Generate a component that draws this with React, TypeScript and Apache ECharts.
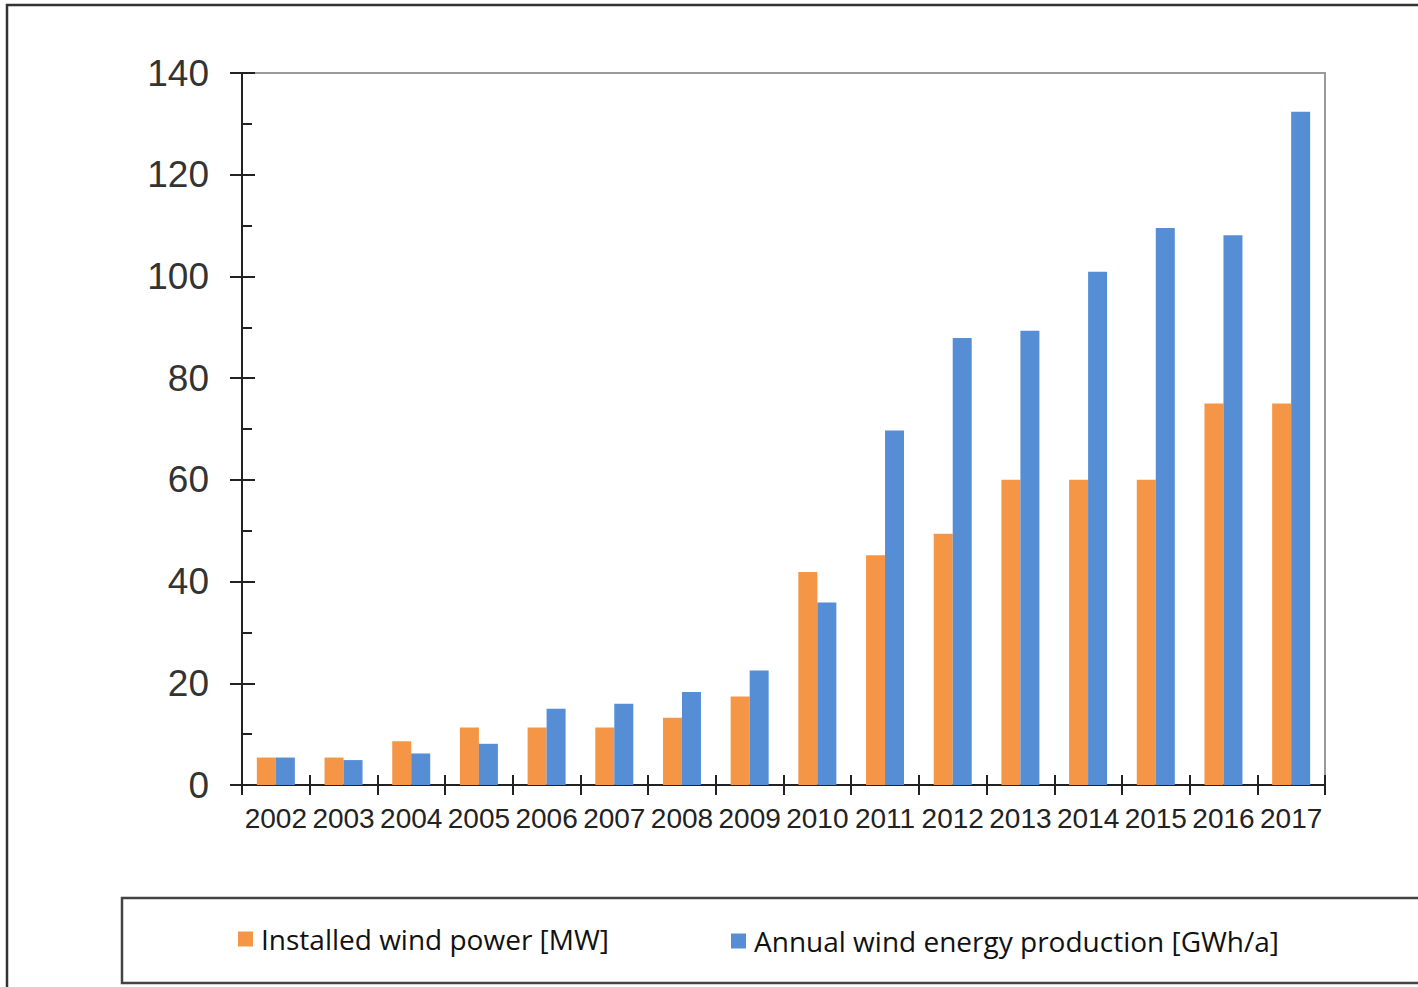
import React, { useEffect, useRef } from "react";
import * as echarts from "echarts";

const years = ["2002", "2003", "2004", "2005", "2006", "2007", "2008", "2009", "2010", "2011", "2012", "2013", "2014", "2015", "2016", "2017"];
const installedPower = [5.4, 5.4, 8.6, 11.3, 11.3, 11.3, 13.2, 17.4, 41.9, 45.2, 49.4, 60, 60, 60, 75, 75];
const annualProduction = [5.4, 4.9, 6.2, 8.1, 15, 16, 18.3, 22.5, 35.9, 69.7, 87.9, 89.3, 100.9, 109.5, 108.1, 132.4];
const seriesNames = ["Installed wind power [MW]", "Annual wind energy production [GWh/a]"];
const yTicks = { min: 0, max: 140, interval: 20 };

const ORANGE = "#F59646";
const BLUE = "#558ED5";

export default function App() {
  const ref = useRef<HTMLDivElement>(null);
  useEffect(() => {
    if (!ref.current) return;
    const chart = echarts.init(ref.current, null, { renderer: "svg" });
    const axisLineStyle = { color: "#222", width: 2 };
    const yLabel = { fontSize: 37, color: "#333", fontFamily: "Liberation Sans", margin: 33 };
    const legendText = { fontSize: 28, color: "#111", fontFamily: "Open Sans", padding: [0, 0, 0, 3] };
    chart.setOption({
      animation: false,
      backgroundColor: "#fff",
      grid: {
        left: 242, top: 73, right: 93, bottom: 202,
        show: true, borderColor: "#9a9a9a", borderWidth: 2, backgroundColor: "transparent",
      },
      xAxis: [
        {
          type: "category", data: years, position: "bottom",
          axisLine: { show: true, lineStyle: axisLineStyle },
          axisTick: { show: true, inside: true, length: 10, lineStyle: axisLineStyle },
          axisLabel: { interval: 0, fontSize: 28, color: "#222", fontFamily: "Liberation Sans", margin: 19 },
          splitLine: { show: false },
        },
        {
          type: "category", data: years, position: "bottom",
          axisLine: { show: false },
          axisTick: { show: true, inside: false, length: 10, lineStyle: axisLineStyle },
          axisLabel: { show: false },
          splitLine: { show: false },
        },
      ],
      yAxis: [
        {
          type: "value", ...yTicks, position: "left",
          axisLine: { show: true, lineStyle: axisLineStyle },
          axisTick: { show: true, inside: true, length: 13, lineStyle: axisLineStyle },
          minorTick: { show: true, splitNumber: 2, length: 10, lineStyle: { color: "#222", width: 2 } },
          axisLabel: yLabel,
          splitLine: { show: false },
        },
        {
          type: "value", ...yTicks, position: "left",
          axisLine: { show: false },
          axisTick: { show: true, inside: false, length: 12, lineStyle: axisLineStyle },
          axisLabel: { show: false },
          splitLine: { show: false },
        },
      ],
      legend: [
        {
          data: [seriesNames[0]], left: 233, top: 920, itemWidth: 15, itemHeight: 15, icon: "rect",
          textStyle: legendText,
        },
        {
          data: [seriesNames[1]], left: 726, top: 922, itemWidth: 15, itemHeight: 15, icon: "rect",
          textStyle: legendText,
        },
      ],
      graphic: [
        {
          type: "rect", shape: { x: 7, y: 5, width: 1500, height: 1100 },
          style: { fill: "none", stroke: "#333", lineWidth: 2.5 }, silent: true,
        },
        {
          type: "rect", shape: { x: 122, y: 898, width: 1400, height: 85 },
          style: { fill: "none", stroke: "#444", lineWidth: 2.5 }, silent: true,
        },
      ],
      series: [
        {
          name: seriesNames[0], type: "bar", data: installedPower, barWidth: 19, barGap: "0%",
          itemStyle: { color: ORANGE },
        },
        {
          name: seriesNames[1], type: "bar", data: annualProduction, barWidth: 19, barGap: "0%",
          itemStyle: { color: BLUE },
        },
      ],
    });
    return () => chart.dispose();
  }, []);
  return (
    <div
      ref={ref}
      style={{ position: "absolute", left: 0, top: 0, width: 1418, height: 987 }}
    />
  );
}
